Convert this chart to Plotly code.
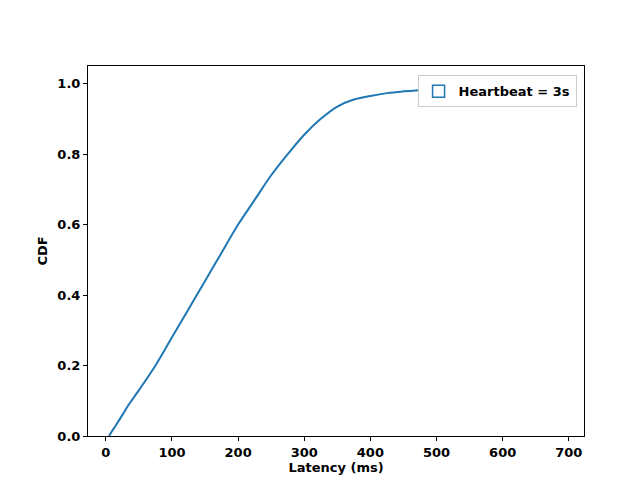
import plotly.graph_objects as go

# CDF of latency
latency_ms = [5, 8, 15, 25, 35, 50, 75, 100, 125, 150, 175, 200, 225, 250, 275,
              300, 325, 350, 375, 400, 425, 450, 500, 550, 600, 650, 700]
cdf = [0.0, 0.01, 0.03, 0.06, 0.09, 0.13, 0.20, 0.28, 0.36, 0.44, 0.52, 0.60,
       0.67, 0.74, 0.80, 0.855, 0.90, 0.935, 0.955, 0.965, 0.973, 0.978, 0.985,
       0.99, 0.995, 0.998, 1.0]
series_name = "Heartbeat = 3s"

BLUE = "#1f77b4"
fig = go.Figure()
fig.add_trace(go.Scatter(x=latency_ms, y=cdf, mode="lines", line_shape="spline",
                         line=dict(color=BLUE, width=2), showlegend=False))
# legend patch: outlined rectangle like matplotlib step histogram
fig.add_trace(go.Bar(x=[None], y=[None], name=series_name,
                     marker=dict(color="white", line=dict(color=BLUE, width=1.5))))

axis = dict(showgrid=False, zeroline=False, showline=True, mirror=True,
            linecolor="black", linewidth=1, ticks="outside", ticklen=4,
            tickcolor="black", tickfont=dict(size=13, color="black"),
            automargin=False)
fig.update_xaxes(range=[-27, 723], tickvals=list(range(0, 701, 100)),
                 title=dict(text="<b>Latency (ms)</b>", font=dict(size=13), standoff=4), **axis)
fig.update_yaxes(range=[0, 1.05], tickvals=[0, 0.2, 0.4, 0.6, 0.8, 1.0],
                 tickformat=".1f",
                 title=dict(text="<b>CDF</b>", font=dict(size=13), standoff=6), **axis)
fig.update_layout(
    width=640, height=480, plot_bgcolor="white", paper_bgcolor="white",
    margin=dict(l=80, r=64, t=58, b=52),
    font=dict(family="DejaVu Sans", color="black", size=13, weight="bold"),
    legend=dict(x=0.985, y=0.975, xanchor="right", yanchor="top",
                bordercolor="#cccccc", borderwidth=1, bgcolor="white",
                font=dict(size=13, weight="bold")),
)
fig.write_html("out.html")
